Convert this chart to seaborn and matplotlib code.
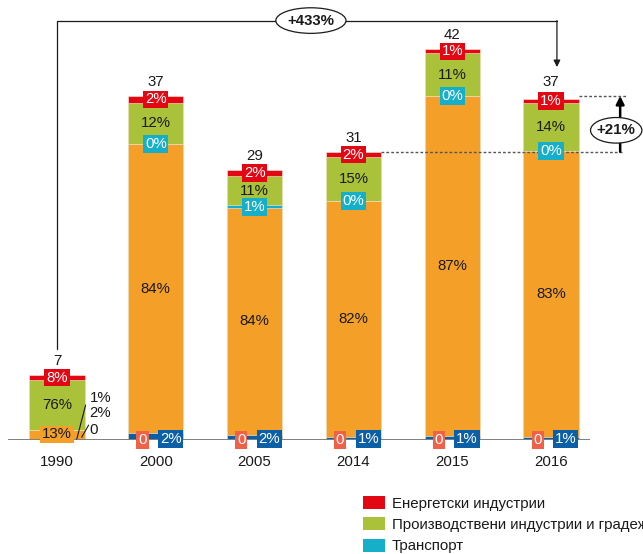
import numpy as np
import pandas as pd
import seaborn as sns
import matplotlib.pyplot as plt
from matplotlib.patches import Ellipse, Patch

# --- data -----------------------------------------------------------------
years = ['1990', '2000', '2005', '2014', '2015', '2016']
totals = [7, 37, 29, 31, 42, 37]

# shares (%) of each sector, listed bottom-up in the stack
blue_share = [2, 2, 2, 1, 1, 1]
salmon_share = [0, 0, 0, 0, 0, 0]
orange_share = [13, 84, 84, 82, 87, 83]
transport_share = [1, 0, 1, 0, 0, 0]
manufacturing_share = [76, 12, 11, 15, 11, 14]
energy_share = [8, 2, 2, 2, 1, 1]

legend_labels = ['Енергетски индустрии',
                 'Производствени индустрии и градежништво',
                 'Транспорт']

# --- style ----------------------------------------------------------------
sns.set_style('white')
plt.rcParams['font.family'] = ['Liberation Sans', 'DejaVu Sans']
FS = 10.8

C_BLUE = '#0a5fa6'
C_SALMON = '#ef6148'
C_ORANGE = '#f4a028'
C_TEAL = '#16afc9'
C_GREEN = '#a9c23a'
C_RED = '#e30613'
TXT = '#1a1a1a'

layers = [
    ('blue', blue_share, C_BLUE),
    ('salmon', salmon_share, C_SALMON),
    ('orange', orange_share, C_ORANGE),
    ('transport', transport_share, C_TEAL),
    ('manufacturing', manufacturing_share, C_GREEN),
    ('energy', energy_share, C_RED),
]

totals_arr = np.array(totals, dtype=float)
seg = {name: totals_arr * np.array(sh) / 100.0 for name, sh, _ in layers}
bottoms = {}
running = np.zeros(len(years))
for name, _, _ in layers:
    bottoms[name] = running.copy()
    running = running + seg[name]
tops = {name: bottoms[name] + seg[name] for name, _, _ in layers}

fig = plt.figure(figsize=(6.43, 5.54), dpi=100)
PX_PER_UNIT = 9.3
ax = fig.add_axes([0, 114 / 554, 1, 440 / 554])

# stacked bars: draw cumulative heights from the top layer down
for name, _, color in reversed(layers):
    df = pd.DataFrame({'year': years, 'value': tops[name]})
    sns.barplot(data=df, x='year', y='value', order=years, color=color,
                width=0.56, errorbar=None, ax=ax, saturation=1,
                edgecolor='#fbeed8', linewidth=0.4)

ax.set_xlim(-57 / 98.8, (643 - 57) / 98.8)
ax.set_ylim(0, 440 / PX_PER_UNIT)
for s in ax.spines.values():
    s.set_visible(False)
ax.set_yticks([])
ax.set_ylabel('')
ax.set_xlabel('')
ax.set_xticks(range(len(years)))
ax.set_xticklabels(years, fontsize=FS, color=TXT)
ax.tick_params(axis='x', length=0, pad=10.5)

# baseline
ax.plot([-0.5, 5.39], [0, 0], color='#7f7f7f', lw=1.4, zorder=3,
        solid_capstyle='butt')


def box(x, y, s, fc, color='white'):
    ax.text(x, y, s, ha='center', va='center', fontsize=FS, color=color,
            zorder=6, bbox=dict(boxstyle='square,pad=0.12', fc=fc, ec='none'))


def mid(name, i):
    return bottoms[name][i] + seg[name][i] / 2


for i, yr in enumerate(years):
    ax.text(i, totals[i] + 1.5, f'{totals[i]}', ha='center', va='center',
            fontsize=FS, color=TXT, zorder=6)
    box(i, mid('energy', i), f'{energy_share[i]}%', C_RED)
    ax.text(i, mid('manufacturing', i), f'{manufacturing_share[i]}%',
            ha='center', va='center', fontsize=FS, color=TXT, zorder=6)
    if i == 0:
        box(i, mid('orange', i), f'{orange_share[i]}%', C_ORANGE, color=TXT)
        # small shares written beside the first bar
        ax.text(0.33, 4.5, f'{transport_share[i]}%', ha='left', va='center',
                fontsize=FS, color=TXT)
        ax.text(0.33, 2.95, f'{blue_share[i]}%', ha='left', va='center',
                fontsize=FS, color=TXT)
        ax.text(0.33, 1.07, f'{salmon_share[i]}', ha='left', va='center',
                fontsize=FS, color=TXT)
        ax.plot([0.29, 0.20], [3.76, 0.1], color=TXT, lw=0.8, zorder=5)
        ax.plot([0.32, 0.25], [1.6, 0.3], color=TXT, lw=0.8, zorder=5)
    else:
        box(i, mid('transport', i), f'{transport_share[i]}%', C_TEAL)
        ax.text(i, mid('orange', i), f'{orange_share[i]}%', ha='center',
                va='center', fontsize=FS, color=TXT, zorder=6)
        box(i - 0.135, 0.0, f'{salmon_share[i]}', C_SALMON)
        box(i + 0.15, 0.1, f'{blue_share[i]}%', C_BLUE)

# growth bracket 1990 -> 2016
y_br = 45.1
x_end = 5.06
ax.plot([0, 0, x_end], [totals[0] + 2.8, y_br, y_br], color=TXT, lw=0.9,
        zorder=4, clip_on=False)
ax.annotate('', xy=(x_end, totals[5] + 3.1), xytext=(x_end, y_br),
            arrowprops=dict(arrowstyle='-|>', color=TXT, lw=0.9,
                            mutation_scale=10, shrinkA=0, shrinkB=0),
            zorder=4)
ax.add_patch(Ellipse((2.57, y_br), 0.71, 2.75, fc='white', ec=TXT, lw=0.9,
                     zorder=5, clip_on=False))
ax.text(2.57, y_br, '+433%', ha='center', va='center', fontsize=FS,
        fontweight='bold', color=TXT, zorder=6)

# change 2014 -> 2016
ax.plot([3.28, 5.72], [totals[3], totals[3]], color='#555555', lw=1.0,
        ls=(0, (2, 1.5)), zorder=1)
ax.plot([5.28, 5.76], [totals[5], totals[5]], color='#555555', lw=1.0,
        ls=(0, (2, 1.5)), zorder=1)
ax.annotate('', xy=(5.70, totals[5]), xytext=(5.70, totals[3]),
            arrowprops=dict(arrowstyle='-|>', color='black', lw=1.8,
                            mutation_scale=12, shrinkA=0, shrinkB=0),
            zorder=4)
ax.add_patch(Ellipse((5.66, 33.3), 0.52, 2.75, fc='white', ec=TXT, lw=0.9,
                     zorder=5, clip_on=False))
ax.text(5.66, 33.3, '+21%', ha='center', va='center', fontsize=FS,
        fontweight='bold', color=TXT, zorder=6)

# legend
handles = [Patch(fc=C_RED, ec='none'), Patch(fc=C_GREEN, ec='none'),
           Patch(fc=C_TEAL, ec='none')]
fig.legend(handles, legend_labels, loc='upper left',
           bbox_to_anchor=(363 / 643, 1 - 496 / 554), frameon=False,
           fontsize=FS, handlelength=1.45, handleheight=0.95,
           handletextpad=0.45, labelspacing=0.45, borderpad=0,
           borderaxespad=0, labelcolor=TXT)

fig.savefig('out.png', dpi=100)
